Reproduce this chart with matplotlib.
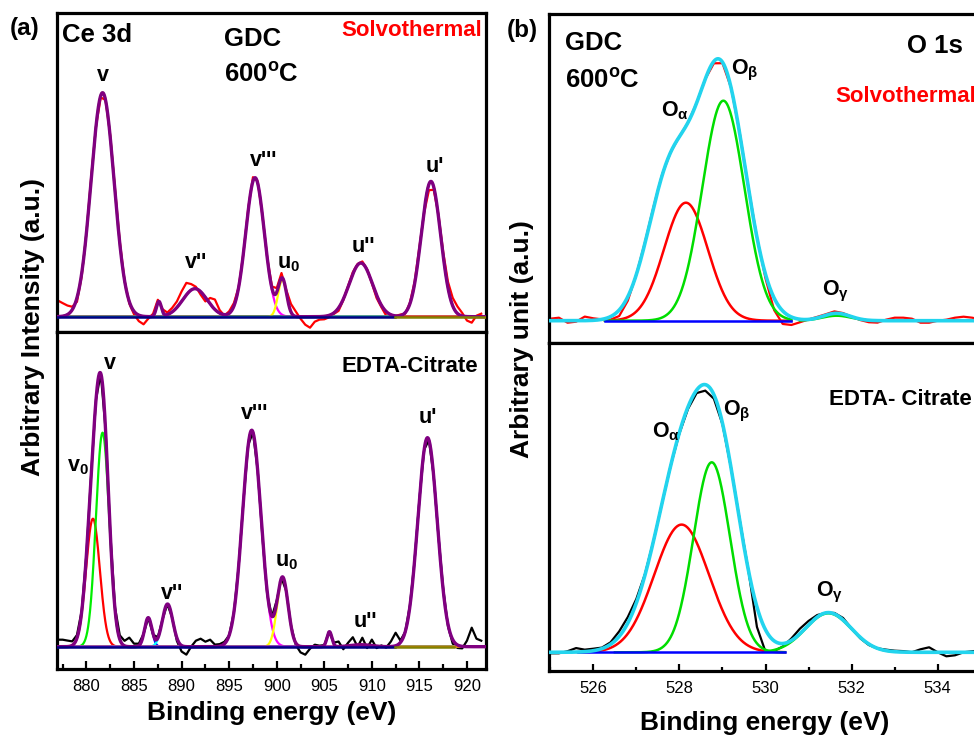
import numpy as np
import matplotlib
matplotlib.use('Agg')
import matplotlib.pyplot as plt

plt.rcParams['font.family'] = ['Liberation Sans', 'DejaVu Sans']
plt.rcParams['mathtext.fontset'] = 'custom'
plt.rcParams['mathtext.rm'] = 'Liberation Sans:bold'
plt.rcParams['mathtext.bf'] = 'Liberation Sans:bold'
plt.rcParams['mathtext.it'] = 'Liberation Sans:bold:italic'

# ---- Ce 3d, Solvothermal (peak centre eV, height a.u., FWHM eV) ----
ce_sol_names = ['v', 'v_s', "v''", "v'''", 'u0', "u''", "u'"]
ce_sol_centers = [881.69, 887.61, 891.40, 897.72, 900.59, 908.84, 916.21]
ce_sol_heights = [224, 15, 28, 139, 37, 53.7, 135.3]
ce_sol_fwhm = [2.85, 0.6, 3.0, 2.3, 1.05, 2.9, 2.4]
# measured minus fit, every 0.5 eV from 877.0 eV
ce_sol_resid = [16, 13, 9, 3, -4, -3, 0, 2, 0, -2, 0, 2, 3, 2, 0, -2, -3, -6, -8, -2,
                2, 3, 2, 2, 4, 6, 10, 12, 6, 2, -3, -4, 6, 10, 3, -1, 2, 3, 0, 0,
                2, 4, 2, 0, 0, 2, 4, 5, 2, 8, 5, -2, -8, -11, -5, -3, -3, -2, -1, -3,
                -1, 1, 2, 1, 2, 1, -1, -3, -2, -4, -2, 0, 1, -1, 1, 2, 3, -2, -6, -3,
                2, 4, 6, 8, 7, 3, -4, -6, 1, 3]

# ---- Ce 3d, EDTA-Citrate ----
ce_edta_names = ['v0', 'v', 'v_s', "v''", "v'''", 'u0', 'u_s', "u''", "u'"]
ce_edta_centers = [880.68, 881.69, 886.49, 888.52, 897.37, 900.62, 905.54, 908.84, 915.85]
ce_edta_heights = [128, 214, 29, 42.7, 216.5, 69, 15, 2, 209]
ce_edta_fwhm = [1.7, 1.64, 0.9, 1.3, 2.3, 1.35, 0.6, 2.5, 2.4]
ce_edta_resid = [7, 7, 6, 4, 3, 1, 0, 0, 0, 0, 0, 0, 2, 4, 5, 9, 3, 2, 0, 0,
                 -1, 1, 0, 0, 0, -3, -6, -8, 0, 6, 8, 5, 7, 2, 2, 2, 0, 0, 0, 0,
                 0, 0, 0, -2, -3, 0, 2, 0, 0, 0, -2, -6, -8, -2, 2, 1, 0, 0, 1, 5,
                 -3, 3, 8, -2, 7, -3, 6, -2, 1, -1, 5, 13, 2, 0, 1, 0, 0, 0, 0, 0,
                 0, 2, -2, -4, -3, -2, 6, 19, 8, 6]

ce_baselines = [(876.9, 912.4), (912.4, 922.0)]
ce_edta_baselines = [(876.9, 912.4), (912.4, 918.6)]

# ---- O 1s, Solvothermal ----
o_sol_comp_centers = [528.15, 529.02, 531.65]
o_sol_comp_heights = [118, 220, 5]
o_sol_comp_fwhm = [1.2, 1.15, 0.8]
o_sol_env_centers = [528.964, 527.769, 531.65]
o_sol_env_heights = [251.0, 139.5, 7.4]
o_sol_env_fwhm = [1.326, 1.213, 0.75]
# measured minus envelope, every 0.2 eV from 525.0 eV
o_sol_resid = [2, 3, -2, -1, 4, 2, 0, -3, -6, -4, 0, 1, 1, 1, 0, 0, 0, 0, 0, -2,
               -1, 0, 1, 1, 0, -4, -12, -13, -8, -3, 0, 1, 1, 2, 1, 0, -1, -2, -2, 1,
               3, 3, 2, -2, -2, 0, 1, 3, 4, 3, 1, 0, 0]

# ---- O 1s, EDTA-Citrate ----
o_edta_comp_centers = [528.05, 528.75, 531.46]
o_edta_comp_heights = [127.7, 190, 39]
o_edta_comp_fwhm = [1.5, 1.0, 1.25]
o_edta_env_centers = [528.984, 528.203, 531.46]
o_edta_env_heights = [116.8, 213.4, 39.7]
o_edta_env_fwhm = [1.149, 1.656, 1.25]
o_edta_resid = [-1, -1, 1, 4, 2, 2, 1, 2, 5, 6, 4, 1, 0, 0, 0, -1, -2, -3, -6, -4,
                -1, 0, 1, 0, -20, -22, -10, -3, 2, 5, 4, 2, 0, 1, 2, 0, -1, -1, 0, 1,
                1, 1, 0, 3, 5, 0, -4, -3, 0, 1, 2, 1, 0]

W, H = 974, 736


def px(x, y):
    return x / W, 1 - y / H


def gauss(x, c, h, fwhm):
    s = fwhm / 2.3548
    return h * np.exp(-(x - c) ** 2 / (2 * s ** 2))


def gsum(x, centers, heights, fwhms):
    y = np.zeros_like(x)
    for c, h, w in zip(centers, heights, fwhms):
        y += gauss(x, c, h, w)
    return y


def frame(ax, xlim, ylim, bottom_ticks, major, minor, tlen):
    ax.set_xlim(*xlim)
    ax.set_ylim(*ylim)
    ax.set_yticks([])
    for sp in ax.spines.values():
        sp.set_linewidth(2.3)
    ax.set_xticks(np.arange(np.ceil(xlim[0] / major) * major, xlim[1], major))
    ax.set_xticks(np.arange(np.ceil(xlim[0] / minor) * minor, xlim[1], minor), minor=True)
    if bottom_ticks:
        ax.tick_params(axis='x', which='major', direction='in', length=tlen, width=1.6,
                       labelsize=12, pad=7)
        ax.tick_params(axis='x', which='minor', direction='in', length=tlen * 0.55, width=1.6)
    else:
        ax.tick_params(axis='x', which='both', bottom=False, labelbottom=False)


fig = plt.figure(figsize=(9.74, 7.36), dpi=100)

# ---------------- panel (a) ----------------
ce_xlim = (876.9, 922.0)
ax_a1 = fig.add_axes([57 / W, 1 - 332 / H, 429 / W, 319 / H])
ax_a2 = fig.add_axes([57 / W, 1 - 669 / H, 429 / W, 337 / H])
xe = np.linspace(ce_xlim[0], ce_xlim[1], 2000)

ce_cols_sol = ['#00dd00', '#00ffff', '#0000ff', '#ff00ff', '#ffff00', '#ff0000', '#00a0a0']
ce_cols_edta = ['#ff0000', '#00ee00', '#0000ff', '#00ffff', '#ff00ff', '#ffff00', '#00a0a0',
                '#ff8000', '#8000ff']

for ax, cen, hei, fw, res, raw_col, cols, bases, ylim in [
        (ax_a1, ce_sol_centers, ce_sol_heights, ce_sol_fwhm, ce_sol_resid, '#ff0000',
         ce_cols_sol, ce_baselines, (-15.3, 303.7)),
        (ax_a2, ce_edta_centers, ce_edta_heights, ce_edta_fwhm, ce_edta_resid, '#000000',
         ce_cols_edta, ce_edta_baselines, (-22.3, 314.7))]:
    grid = 877.0 + 0.5 * np.arange(len(res))
    raw = gsum(grid, cen, hei, fw) + np.array(res)
    ax.plot(grid, raw, color=raw_col, lw=1.6, zorder=1)
    for c, h, w, col in zip(cen, hei, fw, cols):
        ax.plot(xe, gauss(xe, c, h, w), color=col, lw=1.6, zorder=2)
    ax.plot(xe, gsum(xe, cen, hei, fw), color='#800080', lw=2.4, zorder=3)
    ax.plot(bases[0], [0, 0], color='#000080', lw=1.8, zorder=4)
    ax.plot(bases[1], [0, 0], color='#808000', lw=1.8, zorder=4)
    frame(ax, ce_xlim, ylim, ax is ax_a2, 5, 2.5, 6)

lab_kw = dict(fontsize=15.5, fontweight='bold', ha='center', va='baseline')
for txt, x, y in [('v', 881.68, 235.7), ("v''", 891.47, 48.3), ("v'''", 898.66, 151),
                  ('u$_0$', 901.29, 48.3), ("u''", 909.12, 65), ("u'", 916.66, 145)]:
    ax_a1.text(x, y, txt, **lab_kw)
for txt, x, y in [('v', 882.46, 277.7), ('v$_0$', 879.06, 175), ("v''", 888.95, 47.4),
                  ("v'''", 897.66, 227.4), ('u$_0$', 901.01, 80.7), ("u''", 909.33, 20),
                  ("u'", 915.87, 224)]:
    ax_a2.text(x, y, txt, **lab_kw)

# ---------------- panel (b) ----------------
o_xlim = (524.97, 535.33)
ax_b1 = fig.add_axes([549 / W, 1 - 343 / H, 446 / W, 329 / H])
ax_b2 = fig.add_axes([549 / W, 1 - 671 / H, 446 / W, 328 / H])
xo = np.linspace(o_xlim[0], o_xlim[1], 2000)

for ax, cc, ch, cw, ec, eh, ew, res, raw_col, ranges, base, ylim in [
        (ax_b1, o_sol_comp_centers, o_sol_comp_heights, o_sol_comp_fwhm,
         o_sol_env_centers, o_sol_env_heights, o_sol_env_fwhm, o_sol_resid, '#ff0000',
         [(526.27, 530.6), (526.27, 530.6), (530.8, 532.3)], (526.27, 530.6), (-22.3, 306.7)),
        (ax_b2, o_edta_comp_centers, o_edta_comp_heights, o_edta_comp_fwhm,
         o_edta_env_centers, o_edta_env_heights, o_edta_env_fwhm, o_edta_resid, '#000000',
         [(525.64, 530.45), (526.5, 530.45), (530.0, 533.0)], (525.64, 530.45), (-18.7, 309.3))]:
    grid = 525.0 + 0.2 * np.arange(len(res))
    raw = gsum(grid, ec, eh, ew) + np.array(res)
    ax.plot(grid, raw, color=raw_col, lw=1.6, zorder=1)
    for c, h, w, col, rng in zip(cc, ch, cw, ['#ff0000', '#00dd00', '#00dd00'], ranges):
        xs = np.linspace(rng[0], rng[1], 400)
        ax.plot(xs, gauss(xs, c, h, w), color=col, lw=1.8, zorder=2)
    ax.plot(base, [0, 0], color='#0000ff', lw=1.8, zorder=2.5)
    ax.plot(xo, gsum(xo, ec, eh, ew), color='#22d4ee', lw=2.6, zorder=3)
    frame(ax, o_xlim, ylim, ax is ax_b2, 2, 1, 5)

for txt, x, y in [('O$_{\\mathrm{α}}$', 527.89, 204), ('O$_{\\mathrm{β}}$', 529.51, 246.7),
                  ('O$_{\\mathrm{γ}}$', 531.62, 25.7)]:
    ax_b1.text(x, y, txt, **lab_kw)
for txt, x, y in [('O$_{\\mathrm{α}}$', 527.68, 215), ('O$_{\\mathrm{β}}$', 529.34, 237.3),
                  ('O$_{\\mathrm{γ}}$', 531.49, 55.6)]:
    ax_b2.text(x, y, txt, **lab_kw)

# ---------------- figure texts ----------------
big = dict(fontsize=18.5, fontweight='bold', va='baseline')
mid = dict(fontsize=16, fontweight='bold', va='baseline')
fig.text(*px(25, 28), '(a)', fontsize=17.5, fontweight='bold', ha='center', va='center')
fig.text(*px(522.5, 30), '(b)', fontsize=17.5, fontweight='bold', ha='center', va='center')
fig.text(*px(62, 42.3), 'Ce 3d', ha='left', **big)
fig.text(*px(224, 45.7), 'GDC', ha='left', **big)
fig.text(*px(224, 82.3), '600$^{\\mathrm{o}}$C', ha='left', **big)
fig.text(*px(482, 36), 'Solvothermal', ha='right', color='#ff0000', **mid)
fig.text(*px(478.3, 371.7), 'EDTA-Citrate', ha='right', **mid)
fig.text(*px(565, 50), 'GDC', ha='left', **big)
fig.text(*px(565, 87.3), '600$^{\\mathrm{o}}$C', ha='left', **big)
fig.text(*px(907.3, 53.3), 'O 1s', ha='left', **big)
fig.text(*px(835, 102.3), 'Solvothermal', ha='left', color='#ff0000', **mid)
fig.text(*px(829.3, 405), 'EDTA- Citrate', ha='left', **mid)

axlab = dict(fontsize=19, fontweight='bold', ha='center', va='center')
fig.text(*px(271.5, 713), 'Binding energy (eV)', **axlab)
fig.text(*px(765, 723), 'Binding energy (eV)', **axlab)
fig.text(*px(33, 326.5), 'Arbitrary Intensity (a.u.)', rotation=90, **axlab)
fig.text(*px(522, 339), 'Arbitrary unit (a.u.)', rotation=90, **axlab)

plt.savefig('out.png', dpi=100)
